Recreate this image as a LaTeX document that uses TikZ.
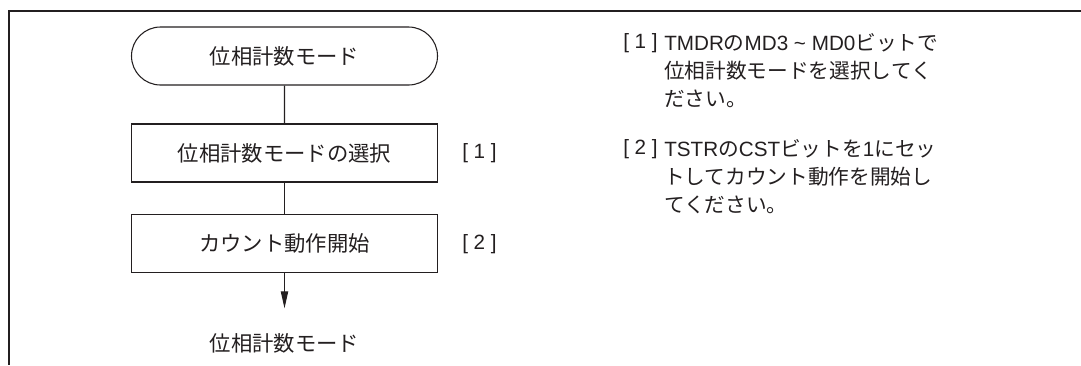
\documentclass[tikz,border=0pt]{standalone}
\usepackage{fontspec}
\setmainfont{Noto Sans CJK JP}
\newfontfamily\helv{Liberation Sans}
\usetikzlibrary{arrows.meta, positioning, shapes.misc}
\definecolor{inkdark}{HTML}{231F20}
\tikzset{
  flowbox/.style={draw=inkdark, line width=0.8pt, minimum width=229.5pt,
    minimum height=43.5pt, inner sep=0pt, text=inkdark,
    font=\fontsize{16}{19}\selectfont},
  terminal/.style={flowbox, rounded rectangle},
  steplabel/.style={anchor=west, inner sep=0pt, text=inkdark,
    font=\fontsize{15.5}{18}\selectfont\helv},
  notetext/.style={anchor=north west, inner sep=0pt, align=left, text=inkdark,
    font=\fontsize{15.5}{21}\selectfont}
}

\begin{document}
\begin{tikzpicture}[x=0.75pt, y=-0.75pt]
  \useasboundingbox (0,0) rectangle (1081,365);
  % frame
  \draw[inkdark, line width=1.8pt] (1081,11) -- (8.7,11) -- (8.7,365);

  % flow
  \node[terminal] (start) at (284.5,56) {位相計数モード};
  \node[flowbox] (select) at (284.5,153) {位相計数モードの選択};
  \node[flowbox] (count) at (284.5,243.7) {カウント動作開始};
  \coordinate (tip) at (284.5,308.3);
  \node[text=inkdark, font=\fontsize{16}{19}\selectfont] (finish) at (284.5,343) {位相計数モード};

  \draw[inkdark, line width=0.8pt] (start) -- (select);
  \draw[inkdark, line width=0.8pt] (select) -- (count);
  \draw[inkdark, line width=0.8pt, -{Triangle[length=12.75pt, width=5.5pt]}] (count) -- (tip);

  \node[steplabel] (mark1) at (462,153) {[ 1 ]};
  \node[steplabel] (mark2) at (462,243.7) {[ 2 ]};

  % notes
  \node[notetext, font=\fontsize{15.5}{21}\selectfont\helv] (note1num) at (623,33.5) {[ 1 ]};
  \node[notetext] (note1) at (664,33.5) {{\helv TMDR}の{\helv MD3 \textasciitilde\ MD0}ビットで\\位相計数モードを選択してく\\ださい。};
  \node[notetext, font=\fontsize{15.5}{21}\selectfont\helv] (note2num) at (623,139.5) {[ 2 ]};
  \node[notetext] (note2) at (664,139.5) {{\helv TSTR}の{\helv CST}ビットを{\helv 1}にセッ\\トしてカウント動作を開始し\\てください。};
\end{tikzpicture}
\end{document}
